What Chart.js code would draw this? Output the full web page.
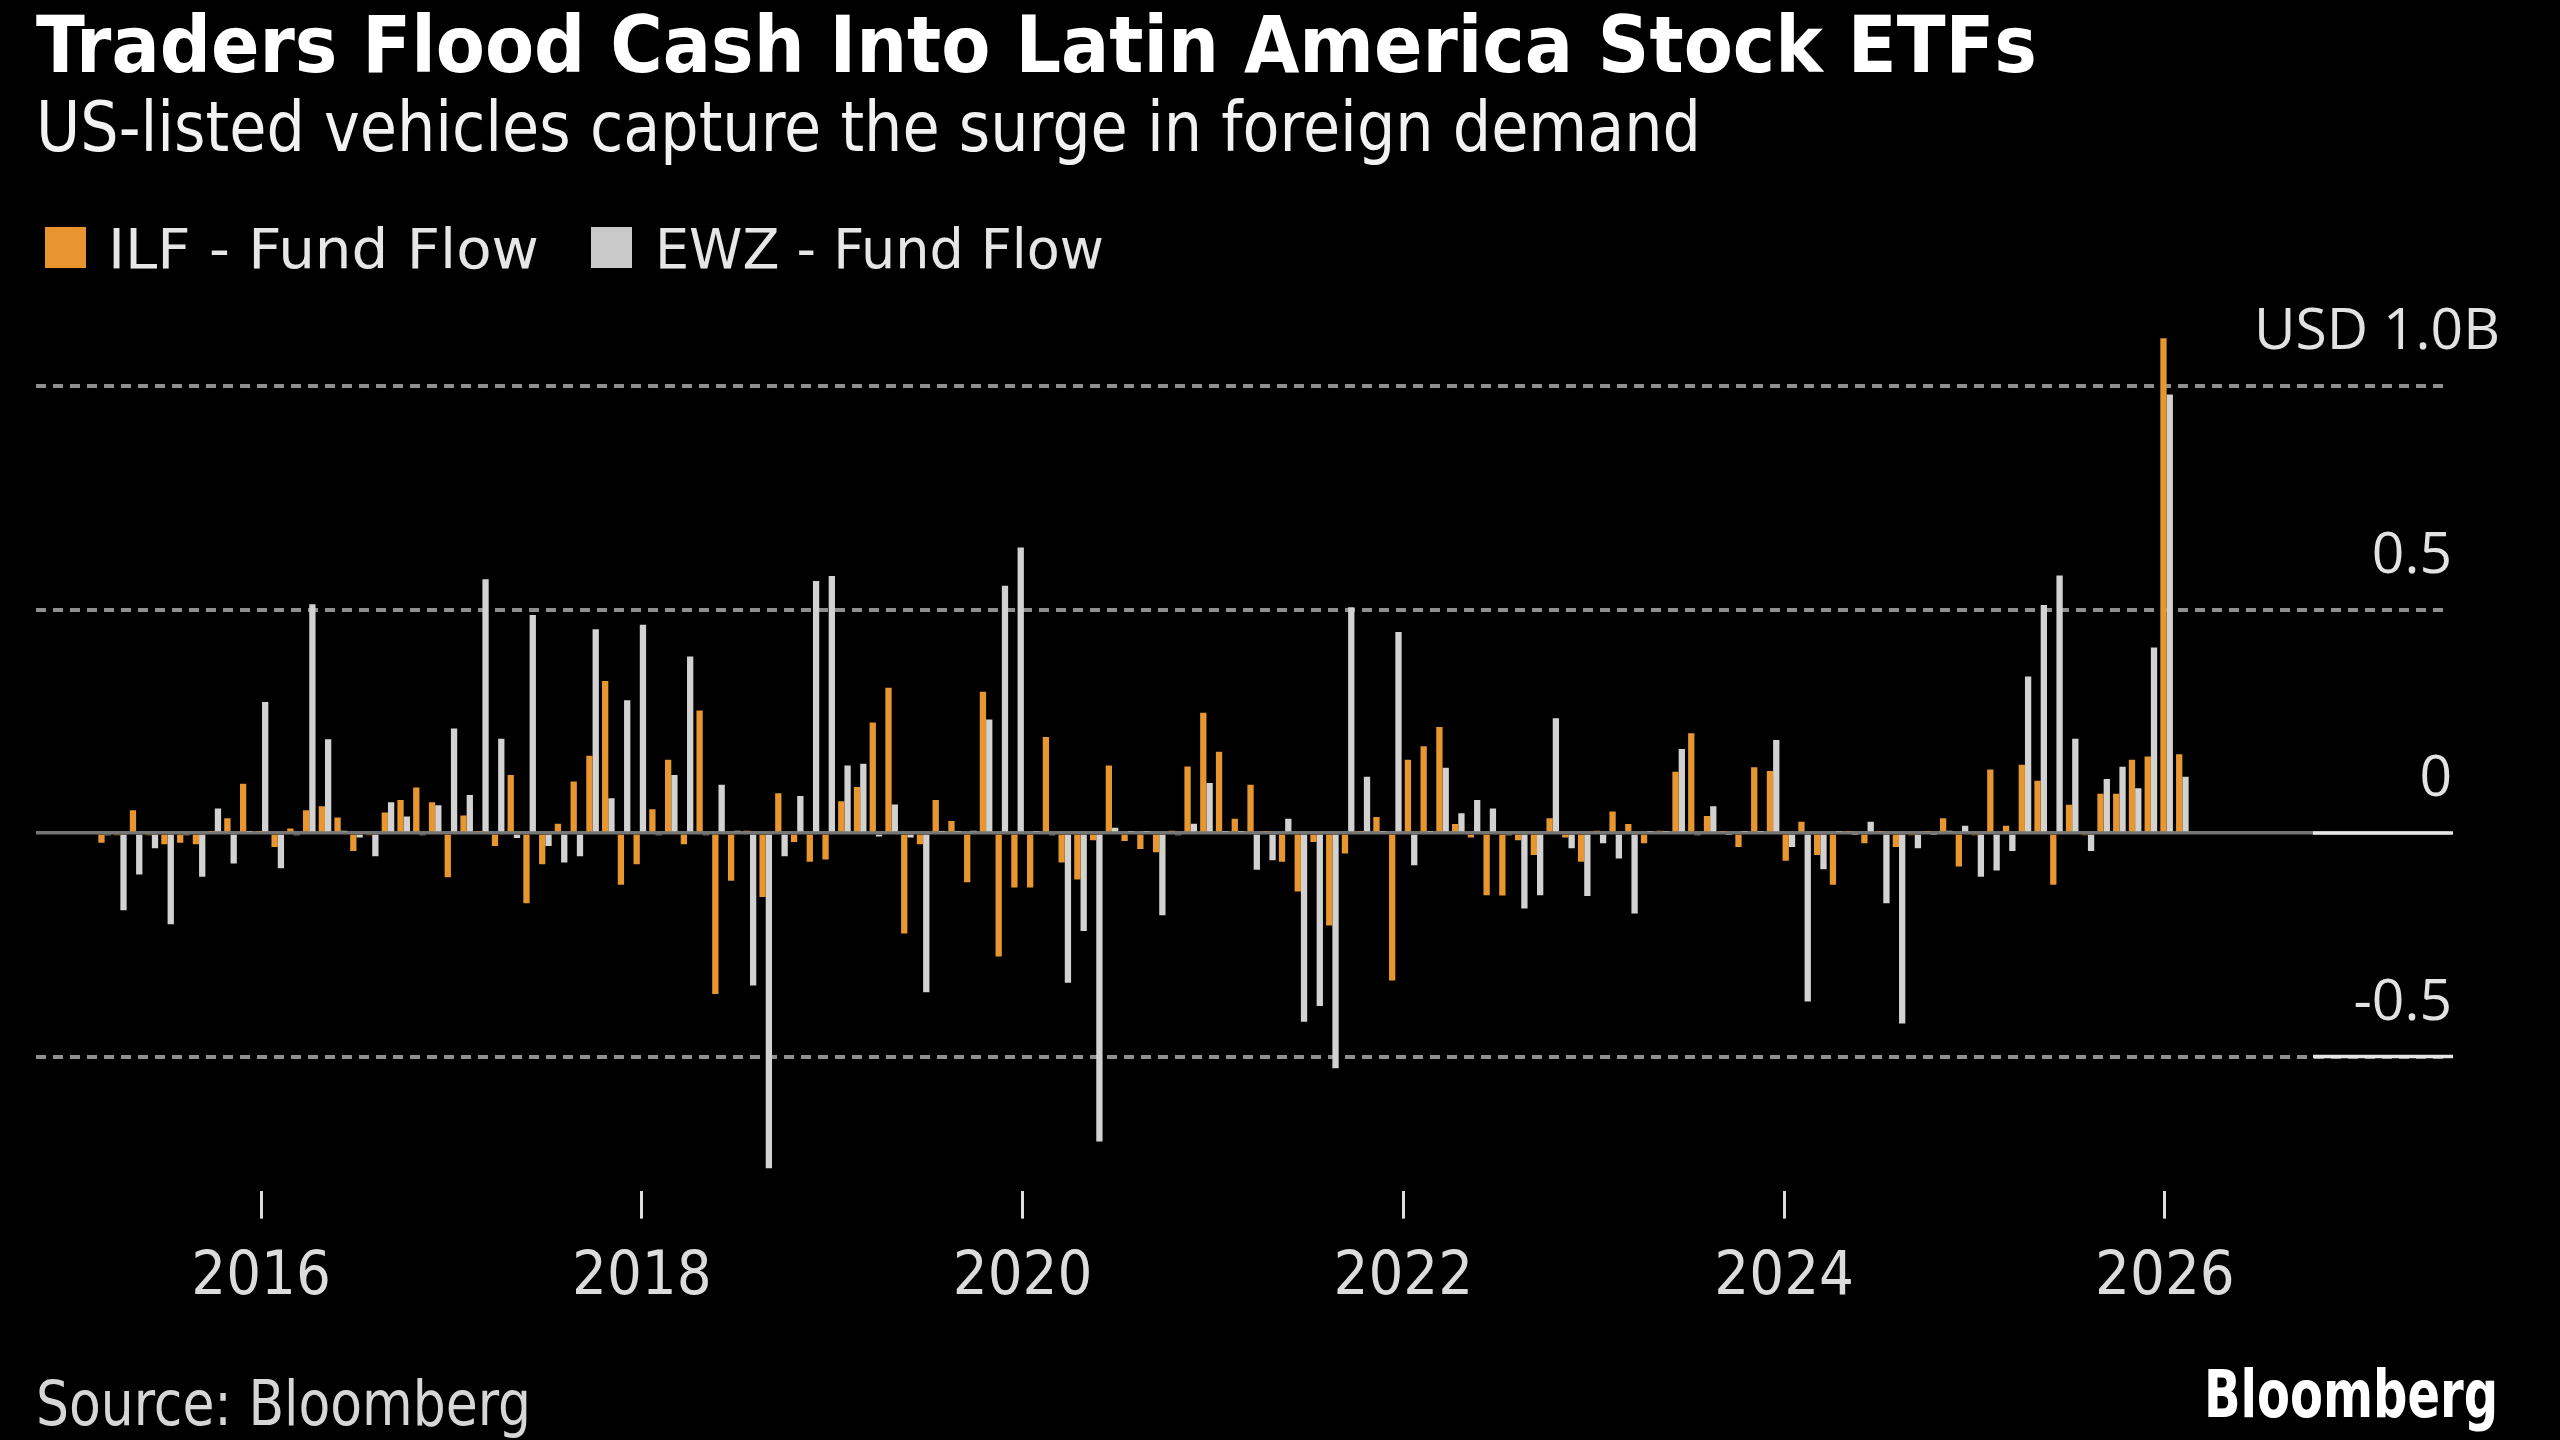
<!DOCTYPE html>
<html>
<head>
<meta charset="utf-8">
<script src="https://cdn.jsdelivr.net/npm/chart.js@4.4.1/dist/chart.umd.min.js"></script>
<style>
  html, body { margin: 0; padding: 0; background: #000; }
  body { width: 2560px; height: 1440px; position: relative; overflow: hidden; font-family: 'DejaVu Sans Condensed', 'DejaVu Sans', sans-serif; }
  #chart { position: absolute; left: 0; top: 0; }
  .txt { position: absolute; white-space: nowrap; line-height: 1; transform-origin: 0 0; }
  .swatch { position: absolute; width: 41px; height: 41px; }
</style>
</head>
<body>
<canvas id="chart" width="2560" height="1440"></canvas>

<div class="txt fit" data-w="2001" style="left:36px; top:6px; font-size:79px; font-weight:bold; color:#fff">Traders Flood Cash Into Latin America Stock ETFs</div>
<div class="txt fit" data-w="1665" style="left:36px; top:92px; font-size:70px; color:#f2f2f2">US-listed vehicles capture the surge in foreign demand</div>

<div class="swatch" style="left:45px; top:227px; background:#e8942f"></div>
<div class="txt fit" data-w="431" style="left:108px; top:221px; font-size:56px; color:#e6e6e6">ILF - Fund Flow</div>
<div class="swatch" style="left:591px; top:227px; background:#c9c9c9"></div>
<div class="txt fit" data-w="449" style="left:655px; top:221px; font-size:56px; color:#e6e6e6">EWZ - Fund Flow</div>

<div class="txt fit" data-w="495" style="left:36px; top:1373px; font-size:62px; color:#d6d6d6">Source: Bloomberg</div>
<div class="txt fit" data-w="294" style="left:2204px; top:1362px; font-size:65px; font-weight:bold; color:#fff">Bloomberg</div>

<script>
// monthly fund flows, USD billions (first bar = Mar 2015)
const startYear = 2015
const startMonth = 3

const ilfFlow = [
  -0.022, -0.005, 0.051, -0.005, -0.025, -0.022, -0.025, 0.003, 0.033, 0.110,
  0.003, -0.031, 0.010, 0.051, 0.060, 0.035, -0.040, -0.005, 0.046, 0.074,
  0.102, 0.069, -0.099, 0.039, 0.003, -0.029, 0.130, -0.157, -0.070, 0.021,
  0.115, 0.173, 0.340, -0.116, -0.070, 0.053, 0.164, -0.025, 0.274, -0.360,
  -0.107, 0.005, -0.143, 0.089, -0.020, -0.064, -0.059, 0.071, 0.103, 0.247,
  0.325, -0.225, -0.025, 0.074, 0.027, -0.110, 0.316, -0.276, -0.122, -0.122,
  0.215, -0.066, -0.104, -0.016, 0.151, -0.018, -0.036, -0.043, 0.005, 0.149,
  0.269, 0.182, 0.032, 0.108, 0.003, -0.064, -0.131, -0.020, -0.207, -0.046,
  0.003, 0.036, -0.330, 0.164, 0.194, 0.237, 0.020, -0.010, -0.139, -0.140,
  -0.016, -0.049, 0.033, -0.010, -0.064, 0.005, 0.048, 0.020, -0.023, 0.005,
  0.137, 0.223, 0.038, 0.003, -0.031, 0.147, 0.139, -0.062, 0.025, -0.049,
  -0.116, 0.003, -0.023, 0.003, -0.031, -0.005, 0.003, 0.033, -0.075, -0.005,
  0.142, 0.016, 0.153, 0.117, -0.116, 0.063, -0.005, 0.088, 0.088, 0.164,
  0.171, 1.107, 0.176
]

const ewzFlow = [
  -0.005, -0.173, -0.093, -0.034, -0.204, -0.005, -0.098, 0.055, -0.068, 0.003,
  0.293, -0.079, -0.005, 0.512, 0.210, 0.005, -0.010, -0.052, 0.069, 0.037,
  -0.005, 0.062, 0.234, 0.085, 0.568, 0.211, -0.011, 0.488, -0.029, -0.066,
  -0.052, 0.456, 0.078, 0.297, 0.466, -0.005, 0.130, 0.395, -0.005, 0.108,
  0.005, -0.341, -0.750, -0.052, 0.083, 0.564, 0.575, 0.151, 0.155, -0.008,
  0.064, -0.010, -0.356, 0.003, 0.003, 0.005, 0.254, 0.553, 0.639, 0.003,
  -0.005, -0.335, -0.219, -0.690, 0.012, 0.003, 0.003, -0.184, -0.005, 0.021,
  0.112, 0.003, 0.003, -0.082, -0.061, 0.032, -0.422, -0.387, -0.526, 0.505,
  0.126, 0.003, 0.450, -0.072, 0.003, 0.146, 0.044, 0.074, 0.055, -0.005,
  -0.169, -0.139, 0.257, -0.034, -0.141, -0.023, -0.057, -0.180, 0.003, 0.003,
  0.188, -0.005, 0.060, -0.003, 0.003, 0.003, 0.208, -0.031, -0.377, -0.081,
  0.003, -0.003, 0.025, -0.157, -0.426, -0.034, -0.003, 0.005, 0.016, -0.098,
  -0.084, -0.040, 0.350, 0.510, 0.576, 0.211, -0.040, 0.121, 0.148, 0.100,
  0.415, 0.981, 0.126
]

const tickYears = [2016, 2018, 2020, 2022, 2024, 2026]
const yTickValues = [-0.5, 0, 0.5, 1.0]
const yTickLabels = ['-0.5', '0', '0.5', 'USD 1.0B']

const months = ilfFlow.map((v, i) => {
  const m = startMonth - 1 + i
  return `${startYear + Math.floor(m / 12)}-${String(m % 12 + 1).padStart(2, '0')}`
})

// where a January tick lands on the bar index axis (bars run slightly denser than the year ticks)
const yearToIndex = (yr) => 9.94 + (yr - 2016) * 12.095

const ORANGE = '#e8962f'
const GREY = '#d2d2d2'

const rightLabels = {
  id: 'rightLabels',
  afterDraw(chart) {
    const { ctx, chartArea } = chart
    const y = chart.scales.y
    ctx.save()
    ctx.font = '57px "Open Sans", "Liberation Sans", sans-serif'
    ctx.fillStyle = '#e2e2e2'
    ctx.textAlign = 'right'
    ctx.textBaseline = 'alphabetic'
    yTickValues.forEach((v, i) => {
      const x = v === 1.0 ? chartArea.right + 51 : chartArea.right + 3
      ctx.fillText(yTickLabels[i], x, y.getPixelForValue(v) - 37)
    })
    ctx.restore()
  }
}

// the solid white stubs at the right end of the 0 and -0.5 lines
const edgeStubs = {
  id: 'edgeStubs',
  afterDatasetsDraw(chart) {
    const { ctx, chartArea } = chart
    const x = chart.scales.x
    const y = chart.scales.y
    ctx.save()
    ctx.strokeStyle = '#e6e6e6'
    ctx.lineWidth = 3.5
    ;[0, -0.5].forEach(v => {
      const py = y.getPixelForValue(v)
      ctx.beginPath()
      ctx.moveTo(x.getPixelForValue(140.3), py)
      ctx.lineTo(chartArea.right + 4, py)
      ctx.stroke()
    })
    ctx.restore()
  }
}

const ctx = document.getElementById('chart').getContext('2d')

new Chart(ctx, {
  type: 'bar',
  data: {
    labels: months,
    datasets: [{
      label: 'ILF - Fund Flow',
      data: ilfFlow.map((v, i) => ({ x: i, y: v })),
      backgroundColor: ORANGE,
      borderWidth: 0
    }, {
      label: 'EWZ - Fund Flow',
      data: ewzFlow.map((v, i) => ({ x: i, y: v })),
      backgroundColor: GREY,
      borderWidth: 0
    }]
  },
  options: {
    responsive: false,
    animation: false,
    devicePixelRatio: 1,
    categoryPercentage: 0.8,
    barPercentage: 1,
    layout: { padding: { left: 36, right: 111, top: 319, bottom: 0 } },
    plugins: {
      legend: { display: false },
      tooltip: { enabled: false }
    },
    scales: {
      x: {
        type: 'linear',
        min: -4.36,
        max: 148.94,
        offset: false,
        afterBuildTicks: (scale) => {
          scale.ticks = tickYears.map(yr => ({ value: yearToIndex(yr) }))
        },
        afterFit: (scale) => { scale.height = 249.4 },
        grid: {
          offset: false,
          drawOnChartArea: false,
          drawTicks: true,
          tickLength: 28,
          tickWidth: 3,
          tickColor: '#dedede'
        },
        border: { display: false },
        ticks: {
          padding: 23,
          color: '#dcdcdc',
          font: { family: "'DejaVu Sans Condensed', 'Liberation Sans', sans-serif", size: 61 },
          maxRotation: 0,
          autoSkip: false,
          callback: (value, index) => String(tickYears[index])
        }
      },
      y: {
        type: 'linear',
        position: 'right',
        min: -0.8,
        max: 1.15,
        afterBuildTicks: (scale) => {
          scale.ticks = yTickValues.map(v => ({ value: v }))
        },
        afterFit: (scale) => { scale.width = 0 },
        grid: {
          drawTicks: false,
          lineWidth: (c) => c.tick && c.tick.value === 0 ? 3.5 : 4,
          color: (c) => c.tick && c.tick.value === 0 ? '#757575' : '#8f8f8f'
        },
        border: {
          display: false,
          dash: (c) => c.tick && c.tick.value === 0 ? [] : [10, 7]
        },
        ticks: { display: false }
      }
    }
  },
  plugins: [rightLabels, edgeStubs]
})

document.querySelectorAll('.fit').forEach(el => {
  const target = Number(el.dataset.w)
  const w = el.getBoundingClientRect().width
  el.style.transform = `scaleX(${target / w})`
})
</script>
</body>
</html>
